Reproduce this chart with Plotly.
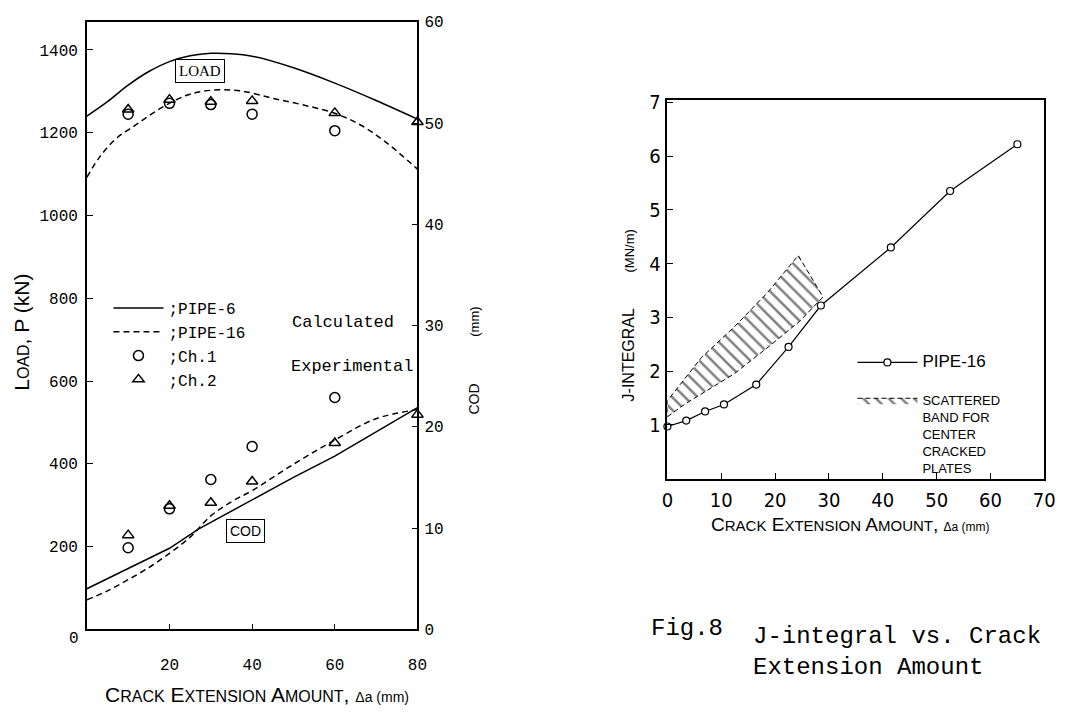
import plotly.graph_objects as go

# ---------------- Left panel data (Load & COD vs crack extension) ----------------
pipe6_load_x = [0, 5, 10, 15, 20, 25, 30, 35, 40, 50, 60, 70, 80]
pipe6_load = [1240, 1275, 1315, 1348, 1372, 1386, 1392, 1391, 1385, 1357, 1320, 1278, 1233]
pipe16_load_x = [0, 3, 7, 12, 18, 24, 28, 33, 38, 45, 52, 60, 66, 72, 80]
pipe16_load = [1092, 1140, 1185, 1220, 1260, 1290, 1300, 1304, 1300, 1283, 1268, 1247, 1220, 1180, 1112]

pipe6_cod_x = [0, 10, 20, 27, 40, 50, 60, 70, 80]
pipe6_cod = [4.0, 6.0, 8.0, 9.9, 12.8, 15.0, 17.1, 19.5, 21.9]
pipe16_cod_x = [0, 5, 10, 15, 20, 25, 30, 35, 40, 50, 60, 70, 80]
pipe16_cod = [2.9, 3.8, 4.9, 6.1, 7.5, 9.1, 11.2, 12.6, 13.7, 16.3, 18.7, 20.8, 21.7]

ch1_x = [10, 20, 30, 40, 60]
ch1_load = [1245, 1271, 1268, 1245, 1205]
ch1_cod = [8.05, 11.9, 14.8, 18.05, 22.9]
ch2_x = [10, 20, 30, 40, 60, 80]
ch2_load = [1256, 1280, 1275, 1277, 1248, 1226]
ch2_cod = [9.3, 12.2, 12.5, 14.6, 18.4, 21.2]

left_x_ticks = [20, 40, 60, 80]
load_ticks = [200, 400, 600, 800, 1000, 1200, 1400]
cod_ticks = [0, 10, 20, 30, 40, 50, 60]

# ---------------- Right panel data (J-integral) ----------------
j_x = [0, 3.5, 7, 10.5, 16.5, 22.5, 28.5, 41.5, 52.5, 65]
j_val = [0.97, 1.08, 1.25, 1.38, 1.75, 2.45, 3.22, 4.3, 5.35, 6.22]
band_lower_x = [0, 3.3, 12.4, 18.5, 24.6, 28.9]
band_lower_y = [1.15, 1.39, 1.95, 2.43, 2.93, 3.38]
band_upper_x = [0, 6.3, 12.4, 18.5, 24.3]
band_upper_y = [1.45, 2.25, 2.82, 3.45, 4.15]
right_x_ticks = [0, 10, 20, 30, 40, 50, 60, 70]
j_ticks = [1, 2, 3, 4, 5, 6, 7]

# page body has an 8px default margin -> figure is offset by 8px
OFF = 8
W, H = 1074 - OFF, 719 - OFF
def px(x):
    return (x - OFF) / W
def py(y):
    return 1 - (y - OFF) / H

MONO = "Liberation Mono, Courier New, monospace"
SANS = "Liberation Sans, Arial, sans-serif"
NARROW = "Liberation Sans Narrow, DejaVu Sans Condensed, Arial Narrow, sans-serif"
BLK = "black"

fig = go.Figure()

# Load curves (left axis)
fig.add_trace(go.Scatter(x=pipe6_load_x, y=pipe6_load, mode="lines", line=dict(color=BLK, width=1.5, shape="spline"),
                         name=";PIPE-6", legendgroup="p6", legend="legend", xaxis="x", yaxis="y"))
fig.add_trace(go.Scatter(x=pipe16_load_x, y=pipe16_load, mode="lines", line=dict(color=BLK, width=1.5, dash="6px,4px", shape="spline"),
                         name=";PIPE-16", legendgroup="p16", legend="legend", xaxis="x", yaxis="y"))
fig.add_trace(go.Scatter(x=ch1_x, y=ch1_load, mode="markers", marker=dict(symbol="circle-open", size=10, color=BLK, line=dict(width=1.5)),
                         name=";Ch.1", legendgroup="c1", legend="legend", xaxis="x", yaxis="y", cliponaxis=False))
fig.add_trace(go.Scatter(x=ch2_x, y=ch2_load, mode="markers", marker=dict(symbol="triangle-up-open", size=10, color=BLK, line=dict(width=1.5)),
                         name=";Ch.2", legendgroup="c2", legend="legend", xaxis="x", yaxis="y", cliponaxis=False))
# COD curves (right axis)
fig.add_trace(go.Scatter(x=pipe6_cod_x, y=pipe6_cod, mode="lines", line=dict(color=BLK, width=1.5),
                         name=";PIPE-6", legendgroup="p6", showlegend=False, xaxis="x", yaxis="y2"))
fig.add_trace(go.Scatter(x=pipe16_cod_x, y=pipe16_cod, mode="lines", line=dict(color=BLK, width=1.5, dash="6px,4px", shape="spline"),
                         name=";PIPE-16", legendgroup="p16", showlegend=False, xaxis="x", yaxis="y2"))
fig.add_trace(go.Scatter(x=ch1_x, y=ch1_cod, mode="markers", marker=dict(symbol="circle-open", size=10, color=BLK, line=dict(width=1.5)),
                         name=";Ch.1", legendgroup="c1", showlegend=False, xaxis="x", yaxis="y2", cliponaxis=False))
fig.add_trace(go.Scatter(x=ch2_x, y=ch2_cod, mode="markers", marker=dict(symbol="triangle-up-open", size=10, color=BLK, line=dict(width=1.5)),
                         name=";Ch.2", legendgroup="c2", showlegend=False, xaxis="x", yaxis="y2", cliponaxis=False))

# Right panel: band
band_x = band_lower_x + band_upper_x[::-1] + [band_lower_x[0]]
band_y = band_lower_y + band_upper_y[::-1] + [band_lower_y[0]]
fig.add_trace(go.Scatter(x=band_x, y=band_y, mode="lines", fill="toself", fillcolor="white",
                         fillpattern=dict(shape="\\", fgcolor=BLK, bgcolor="white", size=9, solidity=0.28),
                         line=dict(color=BLK, width=1, dash="5px,3px"), legendgroup="band", legendrank=2,
                         name="SCATTERED<br>BAND FOR<br>CENTER<br>CRACKED<br>PLATES", legend="legend2", xaxis="x3", yaxis="y3"))
fig.add_trace(go.Scatter(x=j_x, y=j_val, mode="lines+markers", line=dict(color=BLK, width=1.2),
                         marker=dict(symbol="circle", size=7, color="white", line=dict(color=BLK, width=1.2)),
                         name="<span style='font-size:17px'>PIPE-16</span>", legendgroup="j", legendrank=1,
                         legend="legend2", xaxis="x3", yaxis="y3", cliponaxis=False))

axis_common = dict(showgrid=False, zeroline=False, showline=True, linecolor=BLK, linewidth=1.5,
                   ticks="inside", ticklen=6, tickcolor=BLK)

fig.update_layout(
    width=W, height=H,
    margin=dict(l=0, r=0, t=0, b=0),
    paper_bgcolor="white", plot_bgcolor="white",
    xaxis=dict(domain=[px(82), px(418)], range=[0, 80], tickvals=left_x_ticks,
               ticktext=[str(v) for v in left_x_ticks], mirror=True,
               tickfont=dict(family=MONO, size=16, color=BLK), ticklabelstandoff=20, anchor="y", **axis_common),
    yaxis=dict(domain=[py(638), py(13)], range=[0, 1468], tickvals=load_ticks,
               ticktext=[str(v) for v in load_ticks],
               tickfont=dict(family=MONO, size=16, color=BLK), ticklabelstandoff=4, anchor="x", **axis_common),
    yaxis2=dict(overlaying="y", side="right", range=[0, 60], tickvals=cod_ticks,
                ticktext=[str(v) for v in cod_ticks], anchor="x",
                tickfont=dict(family=MONO, size=16, color=BLK), ticklabelstandoff=2, **axis_common),
    xaxis3=dict(domain=[px(672), px(1055)], range=[0, 70], tickvals=right_x_ticks,
                ticktext=[str(v) for v in right_x_ticks], mirror=True, anchor="y3",
                tickfont=dict(family=NARROW, size=20, color=BLK), ticklabelstandoff=3, **axis_common),
    yaxis3=dict(domain=[py(483), py(93)], range=[0, 7.05], tickvals=j_ticks,
                ticktext=[str(v) for v in j_ticks], mirror=True, anchor="x3",
                tickfont=dict(family=NARROW, size=20, color=BLK), ticklabelstandoff=1, **axis_common),
    legend=dict(x=px(104), y=py(290), xanchor="left", yanchor="top", bgcolor="rgba(0,0,0,0)",
                font=dict(family=MONO, size=16, color=BLK), tracegroupgap=0, itemwidth=50),
    legend2=dict(x=px(860), y=py(348), xanchor="left", yanchor="top", bgcolor="rgba(0,0,0,0)",
                 font=dict(family=SANS, size=13, color=BLK), traceorder="grouped",
                 tracegroupgap=18, itemwidth=60, valign="top"),
    showlegend=True,
)

ann = []
def sc(big, small, s):
    return big + "<span style='font-size:%dpx'>%s</span>" % (s, small)
def A(x, y, text, font, xanchor="center", yanchor="middle", xref="paper", yref="paper", **kw):
    if xref == "paper":
        x = px(x)
    if yref == "paper":
        y = py(y)
    d = dict(x=x, y=y, xref=xref, yref=yref, text=text, showarrow=False, font=font,
             xanchor=xanchor, yanchor=yanchor)
    d.update(kw)
    ann.append(d)

# Left panel annotations
A(27.4, 1350, "LOAD", dict(family="Liberation Serif, serif", size=15, color=BLK), xref="x", yref="y",
  bordercolor=BLK, borderwidth=1, borderpad=3, bgcolor="white")
A(38.5, 9.7, "COD", dict(family=SANS, size=14, color=BLK), xref="x", yref="y2",
  bordercolor=BLK, borderwidth=1, borderpad=3, bgcolor="white")
A(396, 322, "Calculated", dict(family=MONO, size=17, color=BLK), xanchor="right")
A(416, 368, "Experimental", dict(family=MONO, size=17, color=BLK), xanchor="right")
A(69, 648, "0", dict(family=MONO, size=16, color=BLK))
A(16, 332, sc("L", "OAD", 16) + ", P (kN)", dict(family=SANS, size=21, color=BLK), textangle=-90)
A(476, 362, "COD" + "&nbsp;" * 12 + "<span style='font-size:13px'>(mm)</span>",
  dict(family=SANS, size=14, color=BLK), textangle=-90)
A(255, 705, sc("C", "RACK", 16) + " " + sc("E", "XTENSION", 16) + " " + sc("A", "MOUNT", 16)
  + ", <span style='font-size:14px'>Δa (mm)</span>", dict(family=SANS, size=21, color=BLK))
# Right panel annotations
A(632, 315, "J-INTEGRAL" + "&nbsp;" * 8 + "<span style='font-size:13px'>(MN/m)</span>",
  dict(family=SANS, size=16, color=BLK), textangle=-90)
A(858, 530, sc("C", "RACK", 15) + " " + sc("E", "XTENSION", 15) + " " + sc("A", "MOUNT", 15)
  + ", <span style='font-size:12px'>Δa (mm)</span>", dict(family=SANS, size=19, color=BLK))
A(653, 637, "Fig.8", dict(family=MONO, size=24, color=BLK), xanchor="left")
A(757, 645, "J-integral vs. Crack", dict(family=MONO, size=24, color=BLK), xanchor="left")
A(757, 677, "Extension Amount", dict(family=MONO, size=24, color=BLK), xanchor="left")
fig.update_layout(annotations=ann)

fig.write_html("out.html")
